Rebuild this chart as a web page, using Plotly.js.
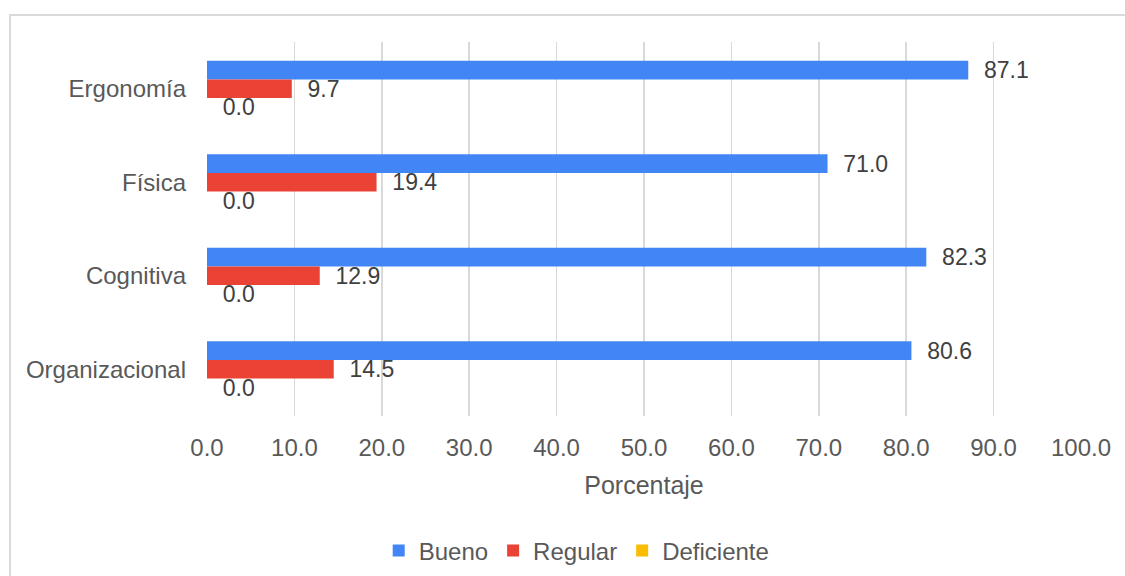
<!DOCTYPE html>
<html>
<head>
<meta charset="utf-8">
<script src="https://cdn.plot.ly/plotly-3.0.1.min.js"></script>
<style>
  html, body { margin: 0; padding: 0; background: #ffffff; overflow: hidden; }
  #frame { position: absolute; left: 9px; top: 14px; width: 1300px; height: 700px;
           border: 2px solid #d9d9d9; box-sizing: border-box; }
  #chart { position: absolute; left: 0; top: 0; width: 1125px; height: 576px; }
</style>
</head>
<body>
<div id="frame"></div>
<div id="chart"></div>
<script>
// Dimensions evaluated and share of responses per rating
const categories = ['Ergonomía', 'Física', 'Cognitiva', 'Organizacional'];
const bueno      = [87.1, 71.0, 82.3, 80.6];
const regular    = [9.7, 19.4, 12.9, 14.5];
const deficiente = [0.0, 0.0, 0.0, 0.0];
const xTicks     = [0, 10, 20, 30, 40, 50, 60, 70, 80, 90, 100];

const FONT = 'Liberation Sans, Arial, sans-serif';

function barTrace(name, values, color) {
  return {
    type: 'bar',
    orientation: 'h',
    name: name,
    x: values,
    y: categories,
    marker: { color: color },
    texttemplate: '\u00a0\u00a0%{x:.1f}',
    textposition: 'outside',
    constraintext: 'none',
    cliponaxis: false,
    textfont: { family: FONT, size: 23, color: '#404040' },
    hoverinfo: 'x+name'
  };
}

const data = [
  barTrace('Bueno', bueno, '#4285F4'),
  barTrace('Regular', regular, '#EA4335'),
  barTrace('Deficiente', deficiente, '#FBBC04')
];

const layout = {
  width: 1125,
  height: 576,
  paper_bgcolor: 'rgba(0,0,0,0)',
  plot_bgcolor: 'rgba(0,0,0,0)',
  margin: { l: 207, r: 44, t: 42, b: 160, autoexpand: false },
  font: { family: FONT, size: 24, color: '#595959' },
  barmode: 'group',
  bargap: 0.4,
  bargroupgap: 0,
  showlegend: true,
  legend: {
    orientation: 'h',
    xref: 'paper', x: 0.423, xanchor: 'center',
    yref: 'container', y: 0.0434, yanchor: 'middle',
    font: { family: FONT, size: 24, color: '#595959' },
    itemwidth: 30,
    traceorder: 'normal'
  },
  xaxis: {
    range: [0, 100],
    tickvals: xTicks,
    ticktext: xTicks.map(v => v.toFixed(1)),
    showgrid: true,
    gridcolor: '#d9d9d9',
    gridwidth: 1.5,
    zeroline: false,
    showline: false,
    ticks: '',
    ticklabelstandoff: 15,
    tickfont: { family: FONT, size: 24, color: '#595959' },
    title: { text: 'Porcentaje', font: { family: FONT, size: 25, color: '#595959' }, standoff: 16 },
    automargin: false,
    fixedrange: true
  },
  yaxis: {
    type: 'category',
    categoryorder: 'array',
    categoryarray: categories,
    autorange: 'reversed',
    showgrid: false,
    zeroline: false,
    showline: false,
    ticks: '',
    ticklabelstandoff: 20,
    tickfont: { family: FONT, size: 24, color: '#595959' },
    automargin: false,
    fixedrange: true
  }
};

Plotly.newPlot('chart', data, layout, { displayModeBar: false, staticPlot: true });
</script>
</body>
</html>
